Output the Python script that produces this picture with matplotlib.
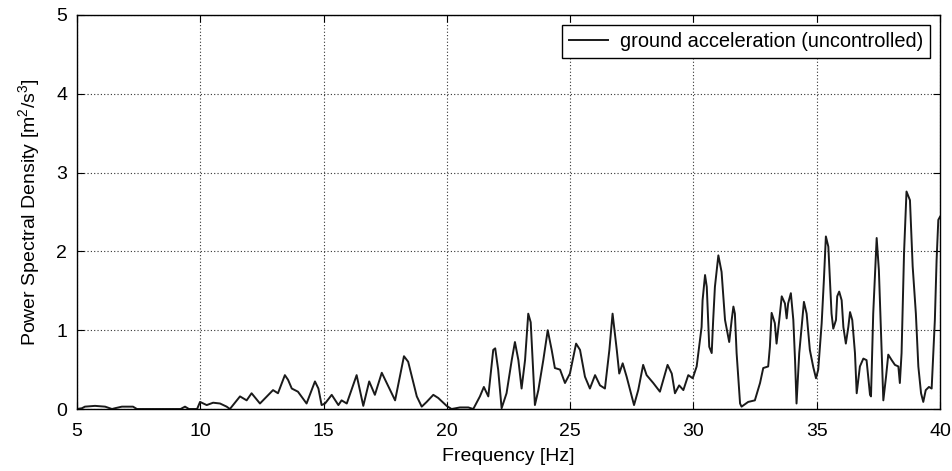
import numpy as np
import matplotlib
matplotlib.use('Agg')
import matplotlib.pyplot as plt

# PSD of ground acceleration
freq = [5.0, 5.2, 5.32, 5.73, 6.14, 6.42, 6.54, 6.82, 7.27, 7.43, 9.2, 9.38, 9.54, 9.87,
        9.99, 10.26, 10.52, 10.80, 11.07, 11.20, 11.61, 11.88, 12.08, 12.42, 12.95, 13.15,
        13.43, 13.56, 13.71, 13.96, 14.31, 14.65, 14.79, 14.92, 15.06, 15.33, 15.60, 15.73,
        15.94, 16.34, 16.61, 16.85, 17.08, 17.36, 17.56, 17.90, 18.26, 18.43, 18.78, 18.98,
        19.18, 19.45, 19.65, 19.99, 20.19, 20.53, 20.87, 21.07, 21.34, 21.50, 21.68, 21.88,
        21.96, 22.08, 22.22, 22.42, 22.63, 22.76, 22.90, 23.03, 23.17, 23.30, 23.40, 23.57,
        23.71, 23.91, 24.09, 24.25, 24.38, 24.59, 24.79, 24.99, 25.24, 25.40, 25.60, 25.80,
        26.01, 26.21, 26.41, 26.59, 26.72, 26.89, 26.99, 27.13, 27.29, 27.59, 27.76, 27.96,
        28.10, 28.37, 28.64, 28.95, 29.12, 29.25, 29.42, 29.59, 29.79, 29.97, 30.13, 30.33,
        30.37, 30.47, 30.54, 30.64, 30.74, 30.80, 30.87, 31.01, 31.14, 31.28, 31.45, 31.55,
        31.62, 31.68, 31.75, 31.89, 31.95, 32.22, 32.49, 32.70, 32.83, 33.03, 33.10, 33.17,
        33.30, 33.37, 33.48, 33.58, 33.71, 33.78, 33.84, 33.95, 34.05, 34.12, 34.18, 34.29,
        34.48, 34.59, 34.72, 34.86, 34.97, 35.06, 35.20, 35.29, 35.37, 35.47, 35.60, 35.67,
        35.78, 35.83, 35.91, 36.01, 36.08, 36.18, 36.28, 36.35, 36.44, 36.55, 36.62, 36.75,
        36.89, 37.02, 37.16, 37.20, 37.29, 37.43, 37.52, 37.59, 37.70, 37.81, 37.90, 38.04,
        38.17, 38.31, 38.37, 38.44, 38.54, 38.64, 38.78, 38.89, 39.02, 39.12, 39.23, 39.32,
        39.42, 39.55, 39.66, 39.79, 39.86, 39.93, 40.0]
psd = [0.0, 0.01, 0.03, 0.04, 0.03, 0.0, 0.01, 0.03, 0.03, 0.0, 0.0, 0.03, 0.0, 0.0,
       0.09, 0.05, 0.08, 0.07, 0.03, 0.0, 0.16, 0.11, 0.2, 0.07, 0.24, 0.2,
       0.43, 0.37, 0.26, 0.22, 0.07, 0.35, 0.26, 0.05, 0.07, 0.18, 0.05, 0.11,
       0.07, 0.43, 0.04, 0.35, 0.18, 0.46, 0.33, 0.11, 0.67, 0.6, 0.16, 0.03,
       0.09, 0.18, 0.14, 0.04, 0.0, 0.02, 0.02, 0.0, 0.16, 0.28, 0.16, 0.75,
       0.77, 0.5, 0.01, 0.2, 0.62, 0.85, 0.62, 0.26, 0.62, 1.21, 1.1, 0.05,
       0.24, 0.62, 1.0, 0.75, 0.52, 0.5, 0.33, 0.45, 0.83, 0.75, 0.41, 0.26,
       0.43, 0.3, 0.26, 0.75, 1.21, 0.75, 0.45, 0.58, 0.41, 0.05, 0.24, 0.56,
       0.43, 0.33, 0.22, 0.56, 0.45, 0.2, 0.3, 0.24, 0.43, 0.39, 0.54, 1.04,
       1.38, 1.7, 1.55, 0.79, 0.71, 1.13, 1.55, 1.95, 1.74, 1.13, 0.85, 1.13,
       1.3, 1.21, 0.71, 0.07, 0.03, 0.09, 0.11, 0.33, 0.52, 0.54, 0.79, 1.22,
       1.09, 0.83, 1.13, 1.43, 1.34, 1.15, 1.34, 1.47, 1.13, 0.62, 0.07, 0.71,
       1.36, 1.21, 0.75, 0.53, 0.39, 0.5, 1.09, 1.64, 2.19, 2.06, 1.21, 1.02,
       1.13, 1.43, 1.49, 1.38, 1.04, 0.83, 1.04, 1.23, 1.13, 0.71, 0.2, 0.54,
       0.64, 0.62, 0.18, 0.16, 1.21, 2.17, 1.76, 1.13, 0.11, 0.41, 0.69, 0.62,
       0.56, 0.54, 0.33, 0.71, 1.98, 2.76, 2.65, 1.81, 1.21, 0.54, 0.2, 0.09,
       0.24, 0.28, 0.26, 1.13, 1.89, 2.4, 2.44]

plt.rcParams['font.family'] = ['Liberation Sans', 'DejaVu Sans']
plt.rcParams['mathtext.default'] = 'regular'

fig = plt.figure(figsize=(9.53, 4.71), dpi=100)
ax = fig.add_axes([0.0808, 0.1316, 0.9056, 0.8366])

ax.plot(freq, psd, color='#1a1a1a', lw=1.4, label='ground acceleration (uncontrolled)')

ax.set_xlim(5, 40)
ax.set_ylim(0, 5)
ax.set_xticks(np.arange(5, 41, 5))
ax.set_yticks(np.arange(0, 6, 1))
ax.grid(True, color='#333333', linestyle=(0, (1, 2)), lw=0.8)
ax.tick_params(direction='in', top=True, right=True, labelsize=14, length=5)
ax.tick_params(axis='x', pad=10)
ax.tick_params(axis='y', pad=7)
for s in ax.spines.values():
    s.set_linewidth(1.0)

ax.set_xlabel('Frequency [Hz]', fontsize=14, labelpad=6)
ax.set_ylabel('Power Spectral Density [m$^2$/s$^3$]', fontsize=14, labelpad=10)

leg = ax.legend(loc='upper right', fontsize=14.4, fancybox=False, framealpha=1,
                edgecolor='black', borderaxespad=0.5, borderpad=0.35,
                handlelength=1.95, handletextpad=0.6)
leg.get_frame().set_linewidth(1.0)

fig.savefig('out.png', dpi=100)
